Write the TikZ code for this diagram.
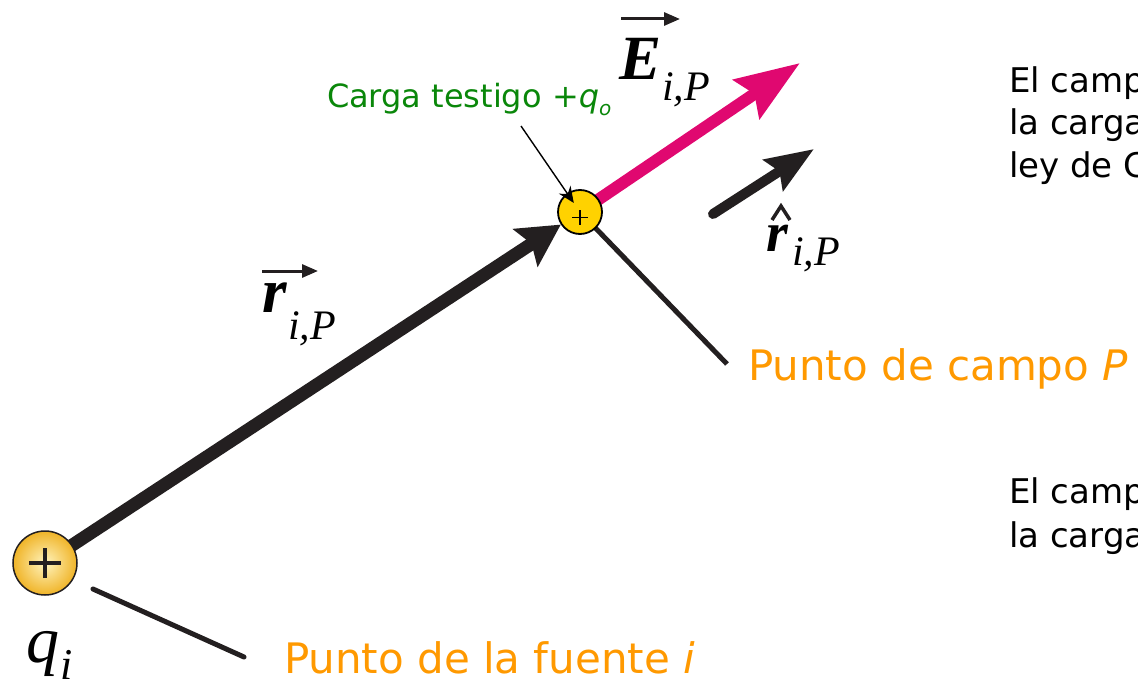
\documentclass[tikz,border=0pt]{standalone}
\usepackage{fontspec}
\setmainfont{DejaVu Sans}
\newfontfamily\ser{Liberation Serif}
\usetikzlibrary{arrows.meta}
\pgfdeclarelayer{bg}
\pgfsetlayers{bg,main}
\definecolor{ink}{RGB}{35,31,32}
\definecolor{mag}{RGB}{224,8,112}
\definecolor{gold}{RGB}{255,210,0}
\definecolor{grn}{RGB}{10,135,10}
\definecolor{orng}{RGB}{255,153,0}
\definecolor{ballin}{RGB}{255,244,190}
\definecolor{ballout}{RGB}{240,180,40}
\tikzset{
  lbl/.style={anchor=base west, inner sep=0pt, outer sep=0pt},
  orlbl/.style={lbl, text=orng, font=\fontsize{42}{42}\selectfont},
  blk/.style={lbl, text=black, font=\fontsize{34}{34}\selectfont},
  pointer/.style={ink, line width=5pt, line cap=round},
  overarrow/.style={ink, line width=3pt, -{Triangle[length=16pt,width=13pt]}},
  vecfont/.style={font=\ser\fontsize{63}{63}\selectfont\bfseries\itshape},
  subfont/.style={font=\ser\fontsize{42}{42}\selectfont\itshape},
}
\begin{document}
\begin{tikzpicture}[x=1pt,y=-1pt]
\useasboundingbox (0,0) rectangle (1138,682);
\clip (0,0) rectangle (1138,682);

% charges
\node[circle, minimum size=64pt, inner sep=0pt, shade, shading=radial,
      inner color=ballin, outer color=ballout, draw=ink, line width=1.5pt] (qi) at (45,563) {};
\draw[ink, line width=3.5pt] ([xshift=-16pt]qi.center) -- ([xshift=16pt]qi.center)
      ([yshift=-15pt]qi.center) -- ([yshift=15pt]qi.center);
\node[circle, minimum size=44pt, inner sep=0pt, fill=gold, draw=black, line width=1.8pt] (qo) at (580,212) {};
\draw[black, line width=1.8pt] (572,217.5) -- (588,217.5) (580,210) -- (580,225);

% coordinates
\coordinate (Etip) at (800,63);
\coordinate (rs) at (713,214);
\coordinate (rt) at (814,149);
\coordinate (pP) at (727,364);
\coordinate (s1) at (93,589);
\coordinate (s2) at (244,657);
\coordinate (cs) at (521,126);

\begin{pgfonlayer}{bg}
\draw[ink, line width=13pt, -{Stealth[length=42pt,width=44pt,inset=7pt]}] (qi.center) -- (qo);
\draw[mag, line width=12pt, -{Stealth[length=64pt,width=46pt,inset=9pt]}] (qo.center) -- (Etip);
\draw[pointer, line cap=butt] (qo.center) -- (pP);
\end{pgfonlayer}

\draw[ink, line width=10pt, line cap=round, -{Stealth[length=48pt,width=36pt,inset=7pt]}] (rs) -- (rt);
\draw[pointer] (s1) -- (s2);
\draw[black, line width=1.4pt, shorten >=11pt, -{Stealth[length=16pt,width=14pt]}] (cs) -- (qo.center);

% labels
\node[lbl, text=grn, font=\fontsize{32}{32}\selectfont] (ct) at (327,108)
  {Carga testigo +\textit{q}\raisebox{-0.22em}{\fontsize{20}{20}\selectfont\textit{o}}};
\node[orlbl] (lP) at (748,380) {Punto de campo \textit{P}};
\node[orlbl] (lS) at (284,673) {Punto de la fuente \textit{i}};

\node[blk] (t1) at (1009,93) {El campo};
\node[blk] (t2) at (1009,135) {la carga};
\node[blk] (t3) at (1009,177) {ley de C};
\node[blk] (t4) at (1009,503) {El campo};
\node[blk] (t5) at (1009,547) {la carga};

% vector labels
\node[lbl, vecfont] (E) at (619,80) {E};
\node[lbl, subfont] (Es) at (662,101) {i,P};
\draw[overarrow] (621,19) -- (680,19);

\node[lbl, vecfont] (r) at (262,312) {r};
\node[lbl, subfont] (rsub) at (288,339) {i,P};
\draw[overarrow] (262,271) -- (318,271);

\node[lbl, font=\ser\fontsize{56}{56}\selectfont\bfseries\itshape] (rh) at (766,251) {r};
\draw[ink, line width=3.5pt, line join=miter] (772,220) -- (781,206) -- (790,220);
\node[lbl, subfont] (rhs) at (792,265) {i,P};

\node[lbl, font=\ser\fontsize{66}{66}\selectfont\itshape] (q) at (26,662) {q};
\node[lbl, font=\ser\fontsize{44}{44}\selectfont\itshape] (qs) at (60,679) {i};
\end{tikzpicture}
\end{document}
